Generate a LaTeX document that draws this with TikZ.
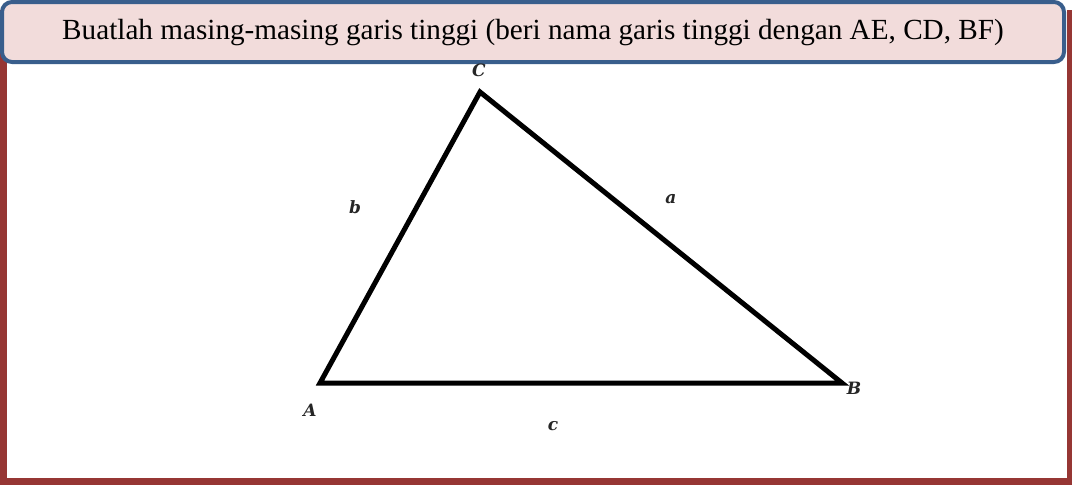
\documentclass[tikz,border=0pt]{standalone}
\usepackage{fontspec}
\setmainfont{Liberation Serif}
\newfontfamily\vertexfont{DejaVu Serif}
\usetikzlibrary{positioning,calc}
\definecolor{FrameRed}{RGB}{150,54,52}
\definecolor{TitleBlue}{RGB}{57,94,140}
\definecolor{TitlePink}{RGB}{242,220,219}

\begin{document}
\begin{tikzpicture}[x=1pt, y=-1pt, every node/.style={align=center}]
\tikzset{
  titlebox/.style={draw=TitleBlue, line width=4pt, rounded corners=10pt, fill=TitlePink},
  side/.style={line width=5pt, line join=miter},
  lbl/.style={inner sep=0pt, text=black!85, font=\vertexfont\bfseries\itshape\fontsize{17}{17}\selectfont}
}
  \useasboundingbox (0,0) rectangle (1072,485);
  % frame
  \fill[FrameRed] (0,10) rectangle (1072,485);
  \fill[white] (7,10) rectangle (1067,478);
  \draw[titlebox] (2,2) rectangle (1064,62);
  \node[font=\fontsize{29.2}{32}\selectfont] (title) at (533,33)
    {Buatlah masing-masing garis tinggi (beri nama garis tinggi dengan AE, CD, BF)};

  % triangle
  \coordinate (A) at (320,383);
  \coordinate (B) at (842,383);
  \coordinate (C) at (480,92);
  \draw[side] (A) -- (B) -- (C) -- cycle;

  \node[lbl] (la) at (310,410) {A};
  \node[lbl] (lb) at (854,388) {B};
  \node[lbl] (lc) at (479,70) {C};
  \node[lbl] (sa) at (671,199) {a};
  \node[lbl] (sb) at (355,207) {b};
  \node[lbl] (sc) at (553,426) {c};
\end{tikzpicture}
\end{document}
